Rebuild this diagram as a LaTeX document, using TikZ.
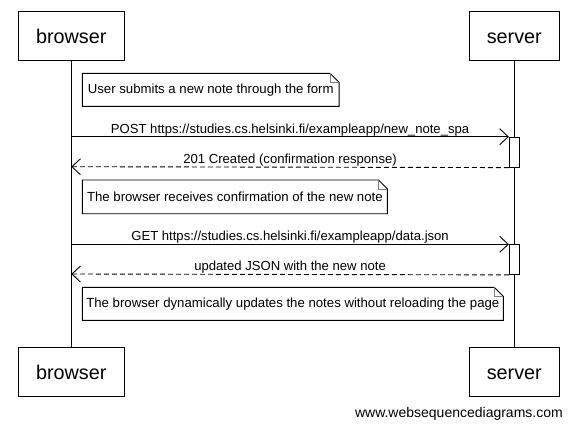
\documentclass[tikz,border=0pt]{standalone}
\usepackage{fontspec}
\setmainfont{Liberation Sans}
\usetikzlibrary{arrows.meta,calc}
\tikzset{
  actor/.style={draw, line width=0.9pt, minimum height=49pt, inner sep=0pt, text height=16pt, text depth=0pt, font=\fontsize{19.8}{22}\selectfont, fill=white},
  act/.style={draw, line width=0.9pt, fill=white, minimum width=10pt, inner sep=0pt},
  lifeline/.style={line width=0.9pt},
  msg/.style={line width=0.9pt, -{Straight Barb[length=8.5pt,width=16pt,line width=0.9pt]}},
  reply/.style={msg, dash pattern=on 5pt off 3pt},
  lbl/.style={font=\fontsize{13.1}{15}\selectfont, anchor=base, inner sep=0pt, yshift=3.5pt},
  notetext/.style={font=\fontsize{13.2}{15}\selectfont, anchor=north west, inner sep=0pt},
  wm/.style={font=\fontsize{14}{16}\selectfont, inner sep=0pt}
}
\newcommand{\notebox}[1]{%
  \draw[line width=0.9pt] (#1.north west) -- ($(#1.north east)+(-9pt,0)$) -- ($(#1.north east)+(0,-9pt)$) -- (#1.south east) -- (#1.south west) -- cycle;
  \draw[line width=0.9pt, gray] ($(#1.north east)+(-9pt,0)$) -- ($(#1.north east)+(-9pt,-9pt)$) -- ($(#1.north east)+(0,-9pt)$);
}
\begin{document}
\begin{tikzpicture}[x=1pt,y=-1pt]
\useasboundingbox (0,0) rectangle (571,429);
% participants
\node[actor, minimum width=105.4pt] (bt) at (71.3,35.5) {browser};
\node[actor, minimum width=90pt] (st) at (514.3,35.5) {server};
\node[actor, minimum width=105.4pt] (bb) at (71.3,371.6) {browser};
\node[actor, minimum width=90pt] (sb) at (514.3,371.6) {server};
% lifelines
\draw[lifeline] (bt.south) -- (bb.north);
\draw[lifeline] (st.south) -- (sb.north);
% activation boxes
\node[act, minimum height=30pt, anchor=north] (a1) at (514.3,136.7) {};
\node[act, minimum height=29.7pt, anchor=north] (a2) at (514.3,244.3) {};
% lifeline anchor coordinates
\coordinate (b1) at (71.3,136.7);
\coordinate (b2) at (71.3,166.7);
\coordinate (b3) at (71.3,244.3);
\coordinate (b4) at (71.3,274);
% notes
\node[notetext, minimum width=256.4pt, minimum height=32.7pt] (n1) at (82.3,73.3) {User submits a new note through the form};
\notebox{n1}
\node[notetext, minimum width=304.7pt, minimum height=33.3pt] (n2) at (82.3,180) {The browser receives confirmation of the new note};
\notebox{n2}
\node[notetext, minimum width=420.7pt, minimum height=32.7pt] (n3) at (82.3,287.3) {The browser dynamically updates the notes without reloading the page};
\notebox{n3}
% messages
\draw[msg] (b1) -- node[lbl] (l1) {POST https://studies.cs.helsinki.fi/exampleapp/new\_note\_spa} (a1.north west);
\draw[reply] (a1.south west) -- node[lbl] (l2) {201 Created (confirmation response)} (b2);
\draw[msg] (b3) -- node[lbl] (l3) {GET https://studies.cs.helsinki.fi/exampleapp/data.json} (a2.north west);
\draw[reply] (a2.south west) -- node[lbl] (l4) {updated JSON with the new note} (b4);
% watermark
\node[wm, anchor=east] (w) at (563,414) {www.websequencediagrams.com};
\end{tikzpicture}
\end{document}
